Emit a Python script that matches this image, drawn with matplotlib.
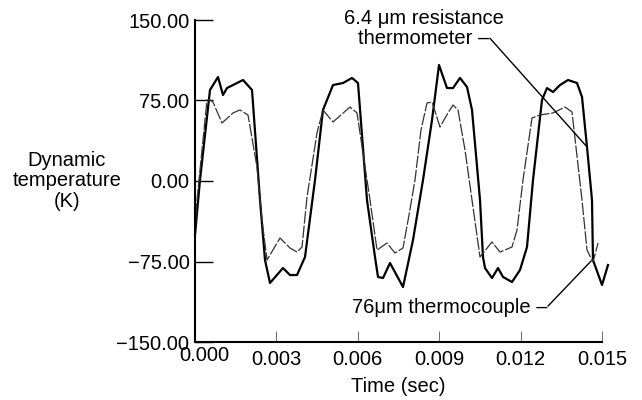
import numpy as np
import matplotlib
matplotlib.use('Agg')
import matplotlib.pyplot as plt
from matplotlib.transforms import ScaledTranslation

plt.rcParams['font.family'] = ['Liberation Sans', 'DejaVu Sans']

# 6.4 um resistance thermometer (thick curve)
t_rt = [0.0, 0.000184, 0.000553, 0.000848, 0.001032, 0.001179, 0.001769, 0.002101,
        0.002396, 0.00258, 0.002764, 0.003243, 0.003501, 0.003759, 0.004054, 0.004423,
        0.004717, 0.005086, 0.005455, 0.005786, 0.006007, 0.006339, 0.006634, 0.006744,
        0.006929, 0.007187, 0.007666, 0.008034, 0.008403, 0.008735, 0.008993, 0.009287,
        0.009509, 0.009767, 0.010025, 0.010209, 0.010504, 0.010614, 0.010688, 0.010946,
        0.011167, 0.011351, 0.011683, 0.011978, 0.012236, 0.012457, 0.012789, 0.012973,
        0.013194, 0.013452, 0.013747, 0.014079, 0.014263, 0.014447, 0.014631, 0.014668,
        0.015, 0.015221]
v_rt = [-50.3, 0.9, 84.8, 96.9, 80.1, 86.6, 94.1, 84.8,
        -17.7, -73.6, -95.0, -81.1, -87.6, -87.6, -70.8, 0.9,
        66.2, 89.4, 91.3, 96.0, 91.3, -17.7, -70.8, -89.4,
        -90.4, -76.4, -98.8, -55.0, 0.9, 56.8, 108.1, 86.6,
        86.6, 96.0, 87.6, 66.2, -17.7, -70.8, -81.1, -90.4,
        -81.1, -89.4, -94.1, -82.9, -61.5, 0.9, 75.5, 86.6,
        82.9, 89.4, 94.1, 91.3, 78.3, 31.7, -17.7, -73.6,
        -96.9, -78.3]

# 76 um thermocouple (thin curve)
t_tc = [0.0, 0.000074, 0.000442, 0.000553, 0.000663, 0.000995, 0.0014, 0.001658,
        0.001953, 0.002285, 0.002469, 0.002654, 0.003133, 0.003501, 0.003759, 0.003944,
        0.004128, 0.004496, 0.004717, 0.005086, 0.005713, 0.005971, 0.00645, 0.006708,
        0.007076, 0.007371, 0.007666, 0.007887, 0.008108, 0.008329, 0.00855, 0.008735,
        0.009029, 0.009324, 0.009509, 0.009693, 0.009951, 0.010209, 0.010504, 0.010946,
        0.011241, 0.011683, 0.011867, 0.012088, 0.01242, 0.012715, 0.013194, 0.013636,
        0.013894, 0.014263, 0.014447, 0.014668, 0.014853]
v_tc = [-45.7, -17.7, 75.5, 75.5, 73.6, 54.0, 63.4, 66.2,
        61.5, 13.0, -36.3, -73.6, -53.1, -62.4, -66.2, -61.5,
        -14.9, 44.7, 66.2, 55.0, 68.9, 63.4, -17.7, -64.3,
        -57.8, -67.1, -62.4, -31.7, 0.9, 47.5, 72.7, 73.6,
        50.3, 63.4, 70.8, 66.2, 28.9, -17.7, -70.8, -56.8,
        -66.2, -61.5, -45.7, 0.9, 58.7, 61.5, 63.4, 68.9,
        64.3, -17.7, -64.3, -75.5, -57.8]

xticks = [0.0, 0.003, 0.006, 0.009, 0.012, 0.015]
xticklabels = ['0.000', '0.003', '0.006', '0.009', '0.012', '0.015']
yticks = [-150, -75, 0, 75, 150]
yticklabels = ['\u2212150.00', '\u221275.00', '0.00', '75.00', '150.00']

fig = plt.figure(figsize=(6.42, 4.0), dpi=100)
ax = fig.add_axes([195 / 642, 1 - 342 / 400, 407 / 642, 322 / 400])

ax.plot(t_rt, v_rt, color='black', linewidth=1.6, clip_on=False)
ax.plot(t_tc, v_tc, color='#333333', linewidth=0.9, linestyle=(0, (10, 1.5)), clip_on=False)

ax.set_xlim(0, 0.015)
ax.set_ylim(-150, 150)
ax.set_xticks(xticks)
ax.set_xticklabels(xticklabels, fontsize=14.5)
ax.set_yticks(yticks)
ax.set_yticklabels(yticklabels, fontsize=14.5)

for s in ['top', 'right']:
    ax.spines[s].set_visible(False)
for s in ['left', 'bottom']:
    ax.spines[s].set_linewidth(1.5)

ax.tick_params(axis='y', direction='in', length=13, width=1, pad=4)
ax.tick_params(axis='x', direction='in', length=8, width=0.6, color='#555555', pad=6)

# shift the first x label a bit, as in the original
lbl = ax.get_xticklabels()[0]
lbl.set_transform(lbl.get_transform() + ScaledTranslation(0.09, 0.04, fig.dpi_scale_trans))

# axis titles
fig.text(67 / 642, 1 - 181 / 400, 'Dynamic\ntemperature\n(K)', ha='center', va='center',
         fontsize=14.5, linespacing=1.1)
fig.text(398 / 642, 1 - 386 / 400, 'Time (sec)', ha='center', va='center', fontsize=14.5)

# annotations
ax.text(0.00844, 142, '6.4 \u03bcm resistance\nthermometer \u2013', ha='center', va='center',
        fontsize=14.5, linespacing=1.1)
ax.annotate('', xy=(0.01445, 31.7), xytext=(0.01087, 133),
            arrowprops=dict(arrowstyle='-', color='black', linewidth=1, shrinkA=0, shrinkB=0),
            annotation_clip=False)

ax.text(0.0094, -117.4, '76\u03bcm thermocouple \u2013', ha='center', va='center', fontsize=14.5)
ax.annotate('', xy=(0.0146, -74.5), xytext=(0.01301, -116.5),
            arrowprops=dict(arrowstyle='-', color='black', linewidth=1, shrinkA=0, shrinkB=0),
            annotation_clip=False)

fig.savefig('out.png', dpi=100)
